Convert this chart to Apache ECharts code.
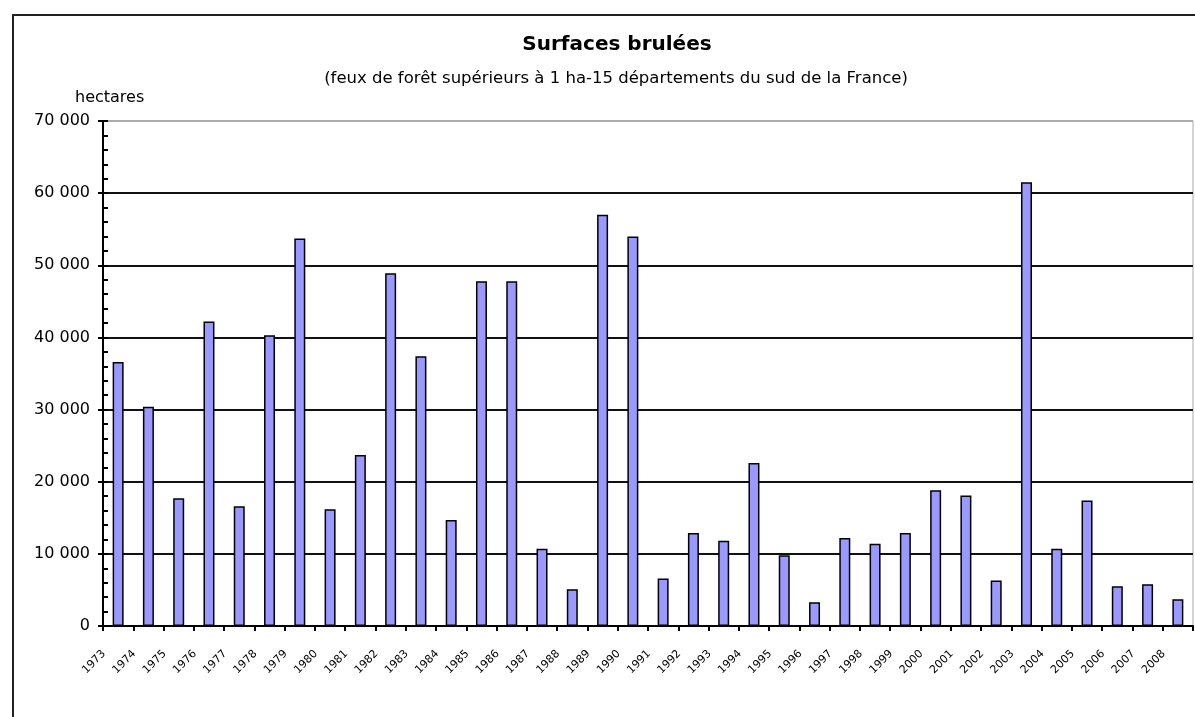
<!DOCTYPE html>
<html>
<head>
<meta charset="utf-8">
<script src="https://cdn.jsdelivr.net/npm/echarts@6/dist/echarts.min.js"></script>
<style>
html,body{margin:0;padding:0;background:#fff;}
#chart{width:1195px;height:717px;}
</style>
</head>
<body>
<div id="chart"></div>
<script>
const years = ['1973','1974','1975','1976','1977','1978','1979','1980','1981','1982','1983','1984','1985','1986','1987','1988','1989','1990','1991','1992','1993','1994','1995','1996','1997','1998','1999','2000','2001','2002','2003','2004','2005','2006','2007','2008'];
const hectares = [36600,30400,17700,42200,16600,40300,53700,16200,23700,48900,37400,14700,47800,47800,10700,5100,57000,54000,6600,12900,11800,22600,9800,3300,12200,11400,12900,18800,18100,6300,61500,10700,17400,5500,5800,3700];
const titleText = 'Surfaces brulées';
const subtitleText = '(feux de forêt supérieurs à 1 ha-15 départements du sud de la France)';
const unitText = 'hectares';

const fmt = v => v === 0 ? '0' : String(v).replace(/\B(?=(\d{3})+(?!\d))/g, ' ');
const FONT = 'DejaVu Sans';

const chart = echarts.init(document.getElementById('chart'), null, {renderer: 'canvas'});
chart.setOption({
  animation: false,
  backgroundColor: '#fff',
  textStyle: {fontFamily: FONT},
  title: [
    {text: titleText, left: 612, top: 30, textAlign: 'center',
     textStyle: {fontFamily: FONT, fontSize: 20, fontWeight: 'bold', color: '#000'}},
    {text: subtitleText, left: 611, top: 65, textAlign: 'center',
     textStyle: {fontFamily: FONT, fontSize: 16.5, fontWeight: 'normal', color: '#000'}}
  ],
  graphic: [
    {type: 'rect', shape: {x: 13, y: 15, width: 1250, height: 760},
     style: {fill: 'none', stroke: '#222', lineWidth: 2}, silent: true},
    {type: 'text', left: 75, top: 90,
     style: {text: unitText, font: '16px "DejaVu Sans"', fill: '#000'}}
  ],
  grid: {left: 103, right: 2, top: 121, bottom: 91, show: true, borderColor: '#aaa', borderWidth: 1, containLabel: false},
  xAxis: {
    type: 'category',
    data: years,
    boundaryGap: true,
    axisLine: {lineStyle: {color: '#000', width: 2}},
    axisTick: {show: true, alignWithLabel: false, length: 5, lineStyle: {color: '#000', width: 2}},
    axisLabel: {interval: 0, rotate: 45, fontSize: 11, color: '#000', margin: 12,
                padding: [0, 20, 0, 0], fontFamily: FONT}
  },
  yAxis: [
    {
      type: 'value', min: 0, max: 70000, interval: 10000,
      axisLine: {show: true, lineStyle: {color: '#000', width: 2}},
      axisTick: {show: true, inside: false, length: 5, lineStyle: {color: '#000', width: 2}},
      axisLabel: {formatter: fmt, fontSize: 16, color: '#000', margin: 13, fontFamily: FONT},
      splitLine: {show: true, lineStyle: {color: ['#111','#111','#111','#111','#111','#111','#111','#aaa'], width: 2}}
    },
    {
      type: 'value', min: 0, max: 70000, interval: 10000, position: 'left', offset: -5,
      axisLine: {show: false},
      axisTick: {show: true, inside: false, length: 5, lineStyle: {color: '#000', width: 2}},
      minorTick: {show: true, splitNumber: 5, length: 5, lineStyle: {color: '#000', width: 2}},
      axisLabel: {show: false},
      splitLine: {show: false}
    }
  ],
  series: [{
    type: 'bar',
    data: hectares,
    yAxisIndex: 0,
    barWidth: 11,
    itemStyle: {color: '#9999ff', borderColor: '#000', borderWidth: 1.5}
  }]
});
</script>
</body>
</html>
